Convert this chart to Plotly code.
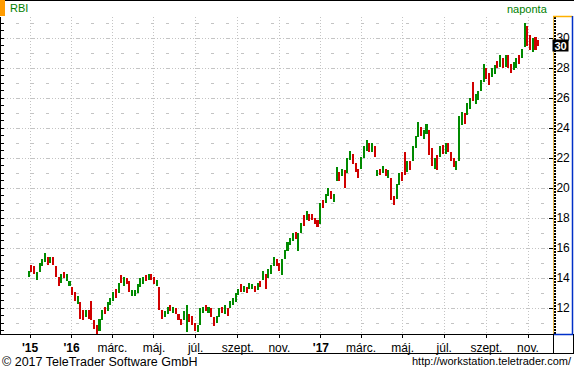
import plotly.graph_objects as go
import pandas as pd

# ---------------- data ----------------
start_date = "2015-10-30"          # first bar; one bar every 4 calendar days
bar_step_days = 4
opens = [14.1,14.9,14.8,13.9,14.4,14.8,15.1,15.4,15.0,15.4,
         14.8,14.1,13.7,14.4,13.8,13.5,13.4,13.1,12.3,12.4,
         11.9,11.4,11.9,12.5,11.2,10.9,10.5,11.2,12.1,11.8,
         12.2,12.5,13.3,13.0,14.2,13.5,14.0,13.8,12.8,12.8,
         13.0,13.4,13.6,14.2,13.9,14.3,14.1,13.5,13.4,11.9,
         11.4,11.6,12.2,11.7,12.0,11.6,11.3,11.2,10.4,11.6,
         11.5,11.0,10.4,10.9,11.7,12.2,11.7,12.0,11.4,11.0,
         11.4,12.1,11.6,12.0,12.0,12.2,12.4,12.9,13.6,13.1,
         13.4,13.3,13.3,13.5,13.2,13.8,13.9,14.3,14.0,14.3,
         14.8,15.3,15.0,14.2,15.3,15.8,16.2,16.5,17.1,15.8,
         17.0,18.2,17.9,18.3,18.3,18.0,17.9,17.6,19.2,19.0,
         19.5,19.8,19.1,20.5,21.1,20.8,21.2,21.0,21.9,22.3,
         21.7,21.3,21.3,22.0,22.5,23.0,22.4,22.8,20.8,21.3,
         21.0,21.3,20.7,20.7,19.5,19.3,20.2,21.1,22.4,21.1,
         21.8,21.8,22.7,23.4,24.1,23.3,23.6,23.9,22.7,21.3,
         22.2,22.1,22.9,22.3,23.0,22.4,22.0,21.2,21.8,24.2,
         25.0,24.9,25.3,27.1,25.6,25.9,26.5,27.1,28.0,27.7,
         27.4,27.6,28.5,28.1,28.7,28.1,28.9,28.3,27.9,28.0,
         28.9,28.7,29.4,30.8,30.2,29.1,30.1,29.9]
closes = [14.5,14.4,14.3,14.4,15.0,15.3,15.7,14.9,15.4,14.9,
          14.1,13.5,14.3,14.0,14.3,13.8,12.9,12.5,12.8,11.3,
          11.2,11.9,11.3,11.2,10.6,10.3,11.3,11.9,11.6,12.4,
          12.7,13.1,12.7,13.7,13.7,14.1,13.6,13.1,13.2,13.2,
          13.6,14.0,14.1,13.8,14.3,13.9,13.6,13.9,11.9,11.3,
          11.8,12.1,11.8,12.1,11.6,11.2,10.9,11.8,12.2,11.1,
          10.9,10.5,10.9,12.0,12.1,11.8,12.1,11.4,10.8,11.5,
          12.0,11.7,12.2,11.5,12.5,12.7,13.0,13.3,13.1,13.5,
          13.0,13.7,13.6,13.1,13.7,13.4,14.5,13.3,14.6,14.9,
          15.4,14.8,14.5,15.3,15.9,16.4,16.7,17.0,16.6,17.0,
          17.7,17.5,18.5,17.8,17.9,17.6,17.4,19.0,18.7,19.6,
          20.0,19.3,19.6,21.4,20.5,21.3,20.0,22.0,22.5,21.6,
          21.1,20.7,22.1,22.8,23.2,22.4,23.0,22.1,21.2,20.9,
          21.5,20.8,21.2,19.2,18.9,20.3,21.0,20.5,20.9,21.8,
          21.2,22.8,23.5,24.4,23.5,23.9,24.3,22.2,21.5,22.0,
          21.2,22.8,22.3,23.0,22.4,21.8,21.4,21.8,24.8,25.1,
          24.3,25.7,26.0,25.8,26.3,26.5,27.2,28.3,27.3,26.9,
          28.0,28.2,28.0,28.9,28.0,28.9,28.0,27.7,28.4,28.7,
          28.3,29.3,31.0,29.5,29.2,30.0,29.2,29.5]

tick_dates = ["2015-11-01", "2016-01-01", "2016-03-01", "2016-05-01", "2016-07-01",
              "2016-09-01", "2016-11-01", "2017-01-01", "2017-03-01", "2017-05-01",
              "2017-07-01", "2017-09-01", "2017-11-01"]
tick_labels = ["<b>'15</b>", "<b>'16</b>", "márc.", "máj.", "júl.", "szept.", "nov.",
               "<b>'17</b>", "márc.", "máj.", "júl.", "szept.", "nov."]
y_ticks = [12, 14, 16, 18, 20, 22, 24, 26, 28, 30]
symbol = "RBI"
period_label = "naponta"
last_label = "30"

# ---------------- build ----------------
dates = pd.date_range(start_date, periods=len(opens), freq=f"{bar_step_days}D")
base = [min(o, c) for o, c in zip(opens, closes)]
height = [max(abs(c - o), 0.05) for o, c in zip(opens, closes)]
colors = ["#008a00" if c >= o else "#d00000" for o, c in zip(opens, closes)]

FW, FH = 574, 372
L, R, T, B = 1, 21, 17, 38
PW, PH = FW - L - R, FH - T - B


def pxx(x):
    return (x - L) / PW


def pyy(y):
    return (FH - B - y) / PH


scale = 498 / 731.0  # px per day
ref = pd.Timestamp("2015-11-01")
xr0 = ref - pd.Timedelta(days=(30 - L) / scale)
xr1 = ref + pd.Timedelta(days=(L + PW - 30) / scale)
yr = [30 - (334 - 38) / 15.0, 30 + (38 - 17) / 15.0]

FONT = "Liberation Sans, Arial, sans-serif"
GRID = "#c4c4c4"

fig = go.Figure()
fig.add_trace(go.Bar(x=dates, y=height, base=base,
                     width=3 * 86400000,
                     marker=dict(color=colors, line=dict(width=0)),
                     showlegend=False, hoverinfo="skip"))

fig.update_layout(
    width=FW, height=FH,
    margin=dict(l=L, r=R, t=T, b=B, pad=0, autoexpand=False),
    paper_bgcolor="white", plot_bgcolor="white",
    showlegend=False, bargap=0,
    font=dict(family=FONT, size=12, color="black"),
    xaxis=dict(type="date", range=[xr0, xr1], tickvals=tick_dates, ticktext=tick_labels,
               ticks="outside", ticklen=3, tickcolor="black",
               showgrid=True, gridcolor=GRID, griddash="1px,2px", gridwidth=1,
               showline=True, linecolor="black", linewidth=1,
               tickfont=dict(family=FONT, size=12, color="black"),
               zeroline=False, fixedrange=True, automargin=False),
    yaxis=dict(range=yr, side="right", tickvals=y_ticks,
               ticks="inside", ticklen=4, tickcolor="black",
               showgrid=True, gridcolor=GRID, griddash="1px,2px", gridwidth=1,
               minor=dict(dtick=1, tick0=0, showgrid=True, gridcolor=GRID,
                          griddash="3px,12px", ticks=""),
               showline=True, linecolor="#e8b640", linewidth=1,
               tickfont=dict(family=FONT, size=12, color="black"),
               zeroline=False, fixedrange=True, automargin=False),
    yaxis2=dict(range=yr, overlaying="y", side="left", anchor="x",
                dtick=0.5, tick0=0, ticks="inside", ticklen=3, tickcolor="black",
                showticklabels=False, showgrid=False, zeroline=False,
                showline=True, linecolor="black", linewidth=1, fixedrange=True),
    yaxis3=dict(range=yr, overlaying="y", side="right", anchor="x",
                dtick=0.1, tick0=0, ticks="outside", ticklen=2, tickcolor="black",
                tickwidth=1, showticklabels=False, showgrid=False, zeroline=False,
                showline=False, fixedrange=True),
)
# invisible traces to activate overlay axes
fig.add_trace(go.Scatter(x=[dates[0]], y=[yr[0] - 5], yaxis="y2", mode="markers",
                         marker=dict(opacity=0), showlegend=False, hoverinfo="skip"))
fig.add_trace(go.Scatter(x=[dates[0]], y=[yr[0] - 5], yaxis="y3", mode="markers",
                         marker=dict(opacity=0), showlegend=False, hoverinfo="skip"))

shapes = []


def line(x0, y0, x1, y1, color="black", w=1):
    shapes.append(dict(type="line", xref="paper", yref="paper",
                       x0=pxx(x0), y0=pyy(y0), x1=pxx(x1), y1=pyy(y1),
                       line=dict(color=color, width=w), layer="above"))


line(0, 0.5, 574, 0.5)                      # top border
shapes.append(dict(type="rect", xref="paper", yref="paper",
                   x0=pxx(0), x1=pxx(5), y0=pyy(0), y1=pyy(16),
                   fillcolor="#ff9c00", line=dict(width=0), layer="above"))
line(553, 16.5, 572.5, 16.5, "#ffb000", 1.5)   # right box top (orange)
line(572.5, 16, 572.5, 334.5, "#0030c8", 1.5)  # right box right (blue)
line(553, 334.5, 573, 334.5, "#0030c8", 1.5)   # right box bottom (blue)
line(198, 353.5, 573, 353.5)                   # x band bottom
line(553.5, 334, 553.5, 354)                   # x band right divider
line(573.5, 334, 573.5, 354)                   # right-bottom box border
fig.update_layout(shapes=shapes)

ann = []
ann.append(dict(text=symbol, x=pxx(7.5), y=pyy(8.5), xref="paper", yref="paper",
                xanchor="left", yanchor="middle", showarrow=False,
                font=dict(family=FONT, size=11, color="#008000")))
ann.append(dict(text=period_label, x=pxx(550), y=pyy(9), xref="paper", yref="paper",
                xanchor="right", yanchor="middle", showarrow=False,
                font=dict(family=FONT, size=11, color="#008000")))
ann.append(dict(text="<b>" + last_label + "</b>", x=pxx(560.5), y=pyy(45.5),
                xref="paper", yref="paper", xanchor="center", yanchor="middle",
                showarrow=False, bgcolor="black", borderpad=0,
                width=15, height=11,
                font=dict(family=FONT, size=11, color="white")))
ann.append(dict(text="© 2017 TeleTrader Software GmbH", x=pxx(0), y=pyy(362),
                xref="paper", yref="paper", xanchor="left", yanchor="middle",
                showarrow=False, font=dict(family=FONT, size=12.5, color="black")))
ann.append(dict(text="http://workstation.teletrader.com/", x=pxx(573.5), y=pyy(361.5),
                xref="paper", yref="paper", xanchor="right", yanchor="middle",
                showarrow=False, font=dict(family=FONT, size=11, color="black")))
fig.update_layout(annotations=ann)

fig.write_html("out.html", config={"displayModeBar": False},
               post_script="document.body.style.margin='0';document.body.style.padding='0';")
